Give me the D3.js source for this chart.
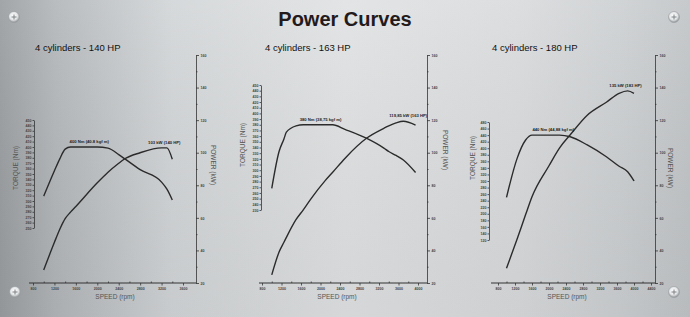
<!DOCTYPE html>
<html><head><meta charset="utf-8">
<script src="https://cdn.jsdelivr.net/npm/d3@7"></script>
<style>
body{margin:0;background:#c8cbcd}
svg{display:block;font-family:"Liberation Sans",Arial,sans-serif}
</style></head><body>
<svg id="chart" width="690" height="317"></svg>
<script>
// chart data
const chartTitle = "Power Curves";
const panelTitles = ["4 cylinders - 140 HP", "4 cylinders - 163 HP", "4 cylinders - 180 HP"];

const rpm140 = [1000, 1200, 1300, 1400, 1500, 1600, 2000, 2200, 2400, 2500, 2800, 3200, 3300, 3400];
const torque140 = [309, 356, 378, 396, 400, 400, 400, 398, 386, 379, 358, 335, 322, 302];
const power140 = [28, 45, 53, 59.5, 63.5, 67, 81.5, 88, 93.5, 96, 100, 103, 103, 96];

const rpm163 = [1000, 1150, 1250, 1300, 1500, 1650, 1800, 2100, 2250, 2500, 2950, 3300, 3400, 3550, 3700, 3950];
const torque163 = [268, 333, 355, 367, 378, 380, 380, 380, 380, 372, 356, 339, 333, 326, 318, 296];
const power163 = [25, 39, 45, 48, 59, 65, 71.5, 83, 88, 96.5, 109, 115, 116.5, 118.3, 119.3, 117];

const rpm180 = [1000, 1250, 1450, 1600, 2000, 2250, 2500, 2900, 3350, 3650, 3850, 4000];
const torque180 = [250, 369, 425, 440, 440, 440, 435, 410, 374, 345, 328, 300];
const power180 = [29, 47, 62, 73, 92, 103, 111, 123, 131, 136.5, 138, 136.5];

const speedTicks140 = [800, 1200, 1600, 2000, 2400, 2800, 3200, 3600];
const speedTicks163 = [800, 1200, 1600, 2000, 2400, 2800, 3200, 3600, 4000];
const speedTicks180 = [800, 1200, 1600, 2000, 2400, 2800, 3200, 3600, 4000, 4400];
const powerTicks = [20, 40, 60, 80, 100, 120, 140, 160];
const torqueTicks140 = d3.range(250, 451, 10);
const torqueTicks163 = d3.range(230, 451, 10);
const torqueTicks180 = d3.range(120, 481, 20);

const torqueLabels = ["400 Nm (40.8 kgf m)", "380 Nm (38,75 kgf m)", "440 Nm (44,88 kgf m)"];
const powerLabels = ["103 kW (140 HP)", "119,85 kW (163 HP)", "135 kW (183 HP)"];
const torqueLabelAt = [[1850, 400], [2000, 380], [2100, 440]];
const powerLabelAt = [[3250, 103], [3800, 119.3], [3800, 138]];

// layout
const width = 690, height = 317;
const panels = [
  {rpm: rpm140, torque: torque140, power: power140, sTicks: speedTicks140, tTicks: torqueTicks140,
   sRange: [33, 183], axisLeft: 29, powerX: 196, tX: 34, tRange: [228, 120], titleX: 35,
   tTitle: [16, 168], pTitle: [213, 165], sTitleX: 115},
  {rpm: rpm163, torque: torque163, power: power163, sTicks: speedTicks163, tTicks: torqueTicks163,
   sRange: [262, 418], axisLeft: 259, powerX: 427, tX: 261, tRange: [210, 85], titleX: 265,
   tTitle: [243, 145], pTitle: [445, 150], sTitleX: 337},
  {rpm: rpm180, torque: torque180, power: power180, sTicks: speedTicks180, tTicks: torqueTicks180,
   sRange: [498, 651], axisLeft: 491, powerX: 655, tX: 489, tRange: [240, 122], titleX: 492,
   tTitle: [473, 158], pTitle: [670, 168], sTitleX: 567}
];

const svg = d3.select("#chart");
const defs = svg.append("defs");
const fmt = d3.format("d");

var bg = defs.append("linearGradient").attr("id", "bg").attr("x1", 0).attr("x2", 1).attr("y1", 0).attr("y2", 0);
[[0, "#9a9ea1"], [0.08, "#b3b7ba"], [0.25, "#d3d6d8"], [0.5, "#e0e2e3"], [0.75, "#d9dbdd"], [0.9, "#cdd0d2"], [1, "#c2c5c7"]]
  .forEach(function (s) { bg.append("stop").attr("offset", s[0]).attr("stop-color", s[1]); });

var sheen = defs.append("linearGradient").attr("id", "sheen").attr("x1", 0).attr("x2", 0).attr("y1", 0).attr("y2", 1);
sheen.append("stop").attr("offset", 0).attr("stop-color", "#fff").attr("stop-opacity", 0.08);
sheen.append("stop").attr("offset", 1).attr("stop-color", "#000").attr("stop-opacity", 0.05);

var screw = defs.append("radialGradient").attr("id", "screw").attr("cx", 0.45).attr("cy", 0.4).attr("r", 0.6);
screw.append("stop").attr("offset", 0).attr("stop-color", "#ffffff");
screw.append("stop").attr("offset", 0.6).attr("stop-color", "#e4e6e7");
screw.append("stop").attr("offset", 1).attr("stop-color", "#8d9194");

svg.append("rect").attr("width", width).attr("height", height).attr("fill", "url(#bg)");
svg.append("rect").attr("width", width).attr("height", height).attr("fill", "url(#sheen)");

[[14, 17], [674, 17], [15, 292], [674, 292]].forEach(function (p) {
  var g = svg.append("g").attr("transform", "translate(" + p[0] + "," + p[1] + ")");
  g.append("circle").attr("r", 5.5).attr("fill", "url(#screw)").attr("stroke", "#9a9ea1").attr("stroke-width", 0.6);
  g.append("path").attr("d", "M-2.5,0H2.5M0,-2.5V2.5").attr("stroke", "#7d8184").attr("stroke-width", 1);
});

svg.append("text").attr("x", 345).attr("y", 26).attr("text-anchor", "middle")
  .attr("font-size", 20).attr("font-weight", "bold").attr("fill", "#231a1c").text(chartTitle);

var powerY = d3.scaleLinear().domain([20, 160]).range([283, 55]);

panels.forEach(function (p, i) {
  var g = svg.append("g");
  var x = d3.scaleLinear().domain([p.sTicks[0], p.sTicks[p.sTicks.length - 1]]).range(p.sRange);
  var ty = d3.scaleLinear().domain([p.tTicks[0], p.tTicks[p.tTicks.length - 1]]).range(p.tRange);

  g.append("text").attr("x", p.titleX).attr("y", 51).attr("font-size", 9.5).attr("fill", "#111").text(panelTitles[i]);

  // speed axis
  var minorS = d3.range(p.sTicks[0] + 200, p.sTicks[p.sTicks.length - 1], 400);
  g.append("line").attr("x1", p.axisLeft).attr("x2", p.powerX).attr("y1", 283).attr("y2", 283)
    .attr("stroke", "#333").attr("stroke-width", 1);
  var xa = g.append("g").attr("transform", "translate(0,283)")
    .call(d3.axisBottom(x).tickValues(p.sTicks).tickFormat(fmt).tickSize(2.5).tickSizeOuter(0).tickPadding(1.5));
  xa.select(".domain").remove();
  g.append("g").attr("transform", "translate(0,283)")
    .call(d3.axisBottom(x).tickValues(minorS).tickSize(-1.5).tickFormat("").tickSizeOuter(0))
    .select(".domain").remove();

  // power axis
  g.append("g").attr("transform", "translate(" + p.powerX + ",0)")
    .call(d3.axisRight(powerY).tickValues(powerTicks).tickFormat(fmt).tickSize(3).tickSizeOuter(0).tickPadding(1.5));
  g.append("g").attr("transform", "translate(" + p.powerX + ",0)")
    .call(d3.axisRight(powerY).tickValues(d3.range(30, 160, 20)).tickSize(1.5).tickFormat(""))
    .select(".domain").remove();

  // torque axis
  g.append("g").attr("transform", "translate(" + p.tX + ",0)")
    .call(d3.axisLeft(ty).tickValues(p.tTicks).tickFormat(fmt).tickSize(1.5).tickSizeOuter(0).tickPadding(1));

  g.selectAll(".tick text").attr("font-size", 3.6).attr("font-weight", "bold").attr("fill", "#444");
  g.selectAll(".domain, .tick line").attr("stroke", "#333").attr("stroke-width", 0.8);

  g.append("text").attr("x", p.sTitleX).attr("y", 299).attr("text-anchor", "middle")
    .attr("font-size", 6.5).attr("fill", "#555").text("SPEED (rpm)");
  g.append("text").attr("transform", "translate(" + p.tTitle[0] + "," + p.tTitle[1] + ") rotate(-90)")
    .attr("text-anchor", "middle").attr("dy", "0.35em").attr("font-size", 6.5).attr("fill", "#555").text("TORQUE (Nm)");
  g.append("text").attr("transform", "translate(" + p.pTitle[0] + "," + p.pTitle[1] + ") rotate(90)")
    .attr("text-anchor", "middle").attr("dy", "0.35em").attr("font-size", 6.5).attr("fill", "#555").text("POWER (kW)");

  // curves
  var tLine = d3.line().x(function (d, j) { return x(p.rpm[j]); }).y(function (d) { return ty(d); }).curve(d3.curveMonotoneX);
  var pLine = d3.line().x(function (d, j) { return x(p.rpm[j]); }).y(function (d) { return powerY(d); }).curve(d3.curveMonotoneX);
  g.append("path").attr("d", tLine(p.torque)).attr("fill", "none").attr("stroke", "#2b2b2b").attr("stroke-width", 1.4);
  g.append("path").attr("d", pLine(p.power)).attr("fill", "none").attr("stroke", "#2b2b2b").attr("stroke-width", 1.4);

  g.append("text").attr("x", x(torqueLabelAt[i][0])).attr("y", ty(torqueLabelAt[i][1]) - 4)
    .attr("text-anchor", "middle").attr("font-size", 4.2).attr("font-weight", "bold").attr("fill", "#222").text(torqueLabels[i]);
  g.append("text").attr("x", x(powerLabelAt[i][0])).attr("y", powerY(powerLabelAt[i][1]) - 4)
    .attr("text-anchor", "middle").attr("font-size", 4.2).attr("font-weight", "bold").attr("fill", "#222").text(powerLabels[i]);
});
</script>
</body></html>
